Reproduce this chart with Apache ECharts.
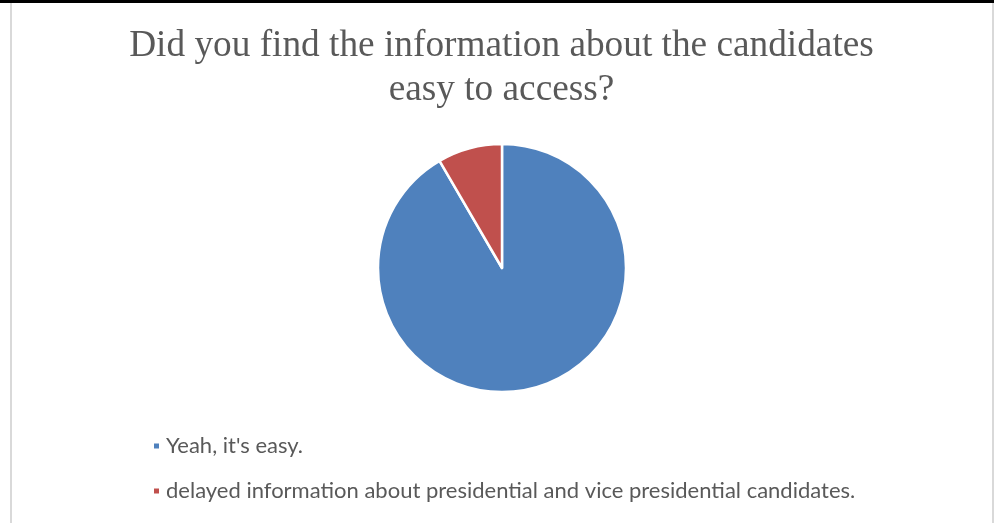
<!DOCTYPE html>
<html>
<head>
<meta charset="utf-8">
<script src="https://cdn.jsdelivr.net/npm/echarts@6/dist/echarts.min.js"></script>
<style>
  html, body { margin: 0; padding: 0; background: #fff; }
  #frame { position: relative; width: 994px; height: 523px; overflow: hidden; }
  #topline { position: absolute; left: 0; top: 0; width: 994px; height: 3px; background: #000; }
  #leftline { position: absolute; left: 10px; top: 3px; width: 2px; height: 520px; background: #d9d9d9; }
  #rightline { position: absolute; left: 992px; top: 3px; width: 2px; height: 520px; background: #d9d9d9; }
  #chart { position: absolute; left: 0; top: 0; width: 994px; height: 523px; }
</style>
</head>
<body>
<div id="frame">
  <div id="chart"></div>
  <div id="topline"></div>
  <div id="leftline"></div>
  <div id="rightline"></div>
</div>
<script>
// Survey answers and their shares
const categories = [
  "Yeah, it's easy.",
  "delayed information about presidential and vice presidential candidates."
];
const values = [91.6, 8.4];
const colors = ['#4F81BD', '#C0504D'];
const titleText = 'Did you find the information about the candidates\neasy to access?';

const chart = echarts.init(document.getElementById('chart'), null, { renderer: 'canvas' });

chart.setOption({
  animation: false,
  color: colors,
  title: {
    text: titleText,
    left: 501.5,
    top: 24,
    padding: 0,
    textAlign: 'center',
    textStyle: {
      fontFamily: '"Liberation Serif", "Times New Roman", serif',
      fontSize: 37.3,
      fontWeight: 'normal',
      color: '#595959',
      lineHeight: 44
    }
  },
  legend: {
    orient: 'vertical',
    left: 147,
    top: 430,
    icon: 'rect',
    itemWidth: 7,
    itemHeight: 7,
    itemGap: 23,
    textStyle: {
      fontFamily: 'Lato, "Open Sans", sans-serif',
      fontSize: 22,
      lineHeight: 22,
      color: '#595959',
      padding: [0, 0, 0, 1]
    },
    data: categories
  },
  series: [{
    type: 'pie',
    center: [502, 268],
    radius: [0, 124],
    startAngle: 90,
    clockwise: true,
    label: { show: false },
    labelLine: { show: false },
    itemStyle: { borderColor: '#ffffff', borderWidth: 2.5 },
    emphasis: { disabled: true },
    data: categories.map((name, i) => ({ name: name, value: values[i] }))
  }]
});
</script>
</body>
</html>
